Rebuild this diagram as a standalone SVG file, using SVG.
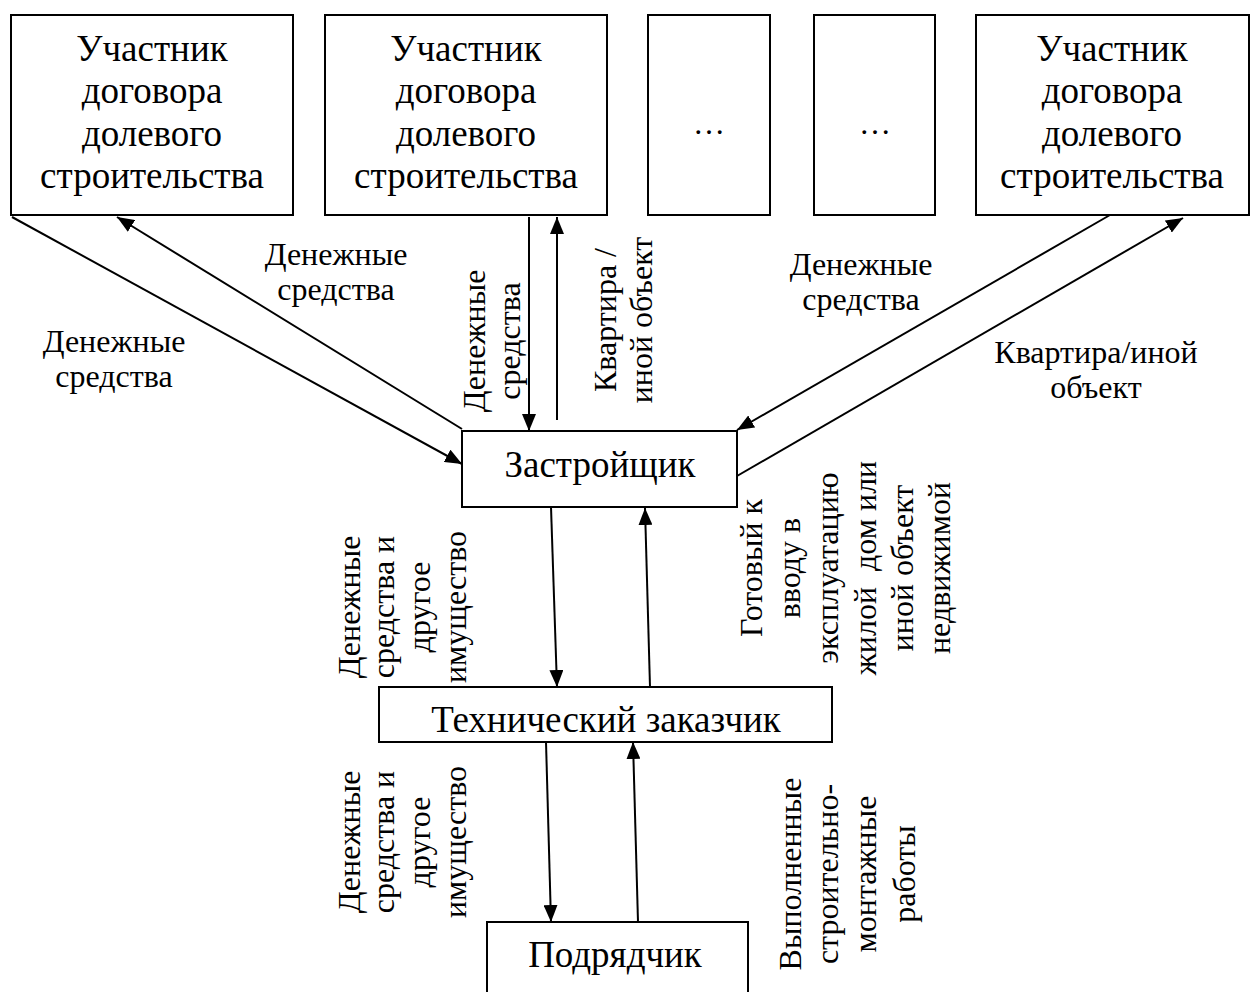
<svg xmlns="http://www.w3.org/2000/svg" width="1251" height="992" viewBox="0 0 1251 992">
<style>
.box{fill:#fff;stroke:#000;stroke-width:2}
.bt{font-family:"Liberation Serif","Times New Roman",serif;font-size:37px;text-anchor:middle;fill:#000}
.lb{font-family:"Liberation Serif","Times New Roman",serif;font-size:32px;text-anchor:middle;fill:#000}
.ln{stroke:#000;stroke-width:2;fill:none;marker-end:url(#ah)}
</style>
<defs>
<marker id="ah" markerUnits="userSpaceOnUse" markerWidth="18" markerHeight="14" refX="17" refY="7" orient="auto">
<path d="M0,0 L17,7 L0,14 z" fill="#000"/>
</marker>
</defs>
<rect width="1251" height="992" fill="#fff"/>
<g id="p1">
<rect class="box" x="11" y="15" width="282" height="200"/>
<text class="bt"><tspan x="152" y="61">Участник</tspan><tspan x="152" y="103">договора</tspan><tspan x="152" y="146">долевого</tspan><tspan x="152" y="188">строительства</tspan></text>
</g>
<g id="p2">
<rect class="box" x="325" y="15" width="282" height="200"/>
<text class="bt"><tspan x="466" y="61">Участник</tspan><tspan x="466" y="103">договора</tspan><tspan x="466" y="146">долевого</tspan><tspan x="466" y="188">строительства</tspan></text>
</g>
<g id="p3">
<rect class="box" x="648" y="15" width="122" height="200"/>
<text class="lb" x="709" y="134">…</text>
</g>
<g id="p4">
<rect class="box" x="814" y="15" width="121" height="200"/>
<text class="lb" x="875" y="134">…</text>
</g>
<g id="p5">
<rect class="box" x="976" y="15" width="273" height="200"/>
<text class="bt"><tspan x="1112" y="61">Участник</tspan><tspan x="1112" y="103">договора</tspan><tspan x="1112" y="146">долевого</tspan><tspan x="1112" y="188">строительства</tspan></text>
</g>
<g id="dev">
<rect class="box" x="462" y="431" width="275" height="76"/>
<text class="bt" x="600" y="477">Застройщик</text>
</g>
<g id="tech">
<rect class="box" x="379" y="687" width="453" height="55"/>
<text class="bt" x="606" y="732">Технический заказчик</text>
</g>
<g id="contr">
<rect class="box" x="487" y="922" width="261" height="80"/>
<text class="bt" x="615" y="967">Подрядчик</text>
</g>
<g id="connectors">
<line class="ln" x1="12" y1="217" x2="462" y2="464"/>
<line class="ln" x1="462" y1="429" x2="117" y2="217"/>
<line class="ln" x1="529" y1="217" x2="529" y2="431"/>
<line class="ln" x1="557" y1="420" x2="557" y2="217"/>
<line class="ln" x1="1110" y1="215" x2="737" y2="430"/>
<line class="ln" x1="737" y1="476" x2="1183" y2="218"/>
<line class="ln" x1="551" y1="507" x2="557" y2="687"/>
<line class="ln" x1="650" y1="687" x2="645" y2="508"/>
<line class="ln" x1="546" y1="742" x2="551" y2="922"/>
<line class="ln" x1="638" y1="922" x2="633" y2="742"/>
</g>
<g id="labels">
<text class="lb"><tspan x="114" y="352">Денежные</tspan><tspan x="114" y="387">средства</tspan></text>
<text class="lb"><tspan x="336" y="265">Денежные</tspan><tspan x="336" y="300">средства</tspan></text>
<text class="lb"><tspan x="861" y="275">Денежные</tspan><tspan x="861" y="310">средства</tspan></text>
<text class="lb"><tspan x="1096" y="363">Квартира/иной</tspan><tspan x="1096" y="398">объект</tspan></text>
<text class="lb" transform="rotate(-90)"><tspan x="-341" y="485">Денежные</tspan><tspan x="-341" y="520">средства</tspan></text>
<text class="lb" transform="rotate(-90)"><tspan x="-320" y="616">Квартира /</tspan><tspan x="-320" y="652">иной объект</tspan></text>
<text class="lb" transform="rotate(-90)"><tspan x="-607" y="360">Денежные</tspan><tspan x="-607" y="394">средства и</tspan><tspan x="-607" y="430">другое</tspan><tspan x="-607" y="466">имущество</tspan></text>
<text class="lb" transform="rotate(-90)"><tspan x="-842" y="360">Денежные</tspan><tspan x="-842" y="394">средства и</tspan><tspan x="-842" y="430">другое</tspan><tspan x="-842" y="466">имущество</tspan></text>
<text class="lb" transform="rotate(-90)" xml:space="preserve"><tspan x="-568" y="762">Готовый к</tspan><tspan x="-568" y="800">вводу в</tspan><tspan x="-568" y="838">эксплуатацию</tspan><tspan x="-568" y="876">жилой  дом или</tspan><tspan x="-568" y="913">иной объект</tspan><tspan x="-568" y="950">недвижимой</tspan></text>
<text class="lb" transform="rotate(-90)"><tspan x="-874" y="801">Выполненные</tspan><tspan x="-874" y="838">строительно-</tspan><tspan x="-874" y="876">монтажные</tspan><tspan x="-874" y="915">работы</tspan></text>
</g>
</svg>
